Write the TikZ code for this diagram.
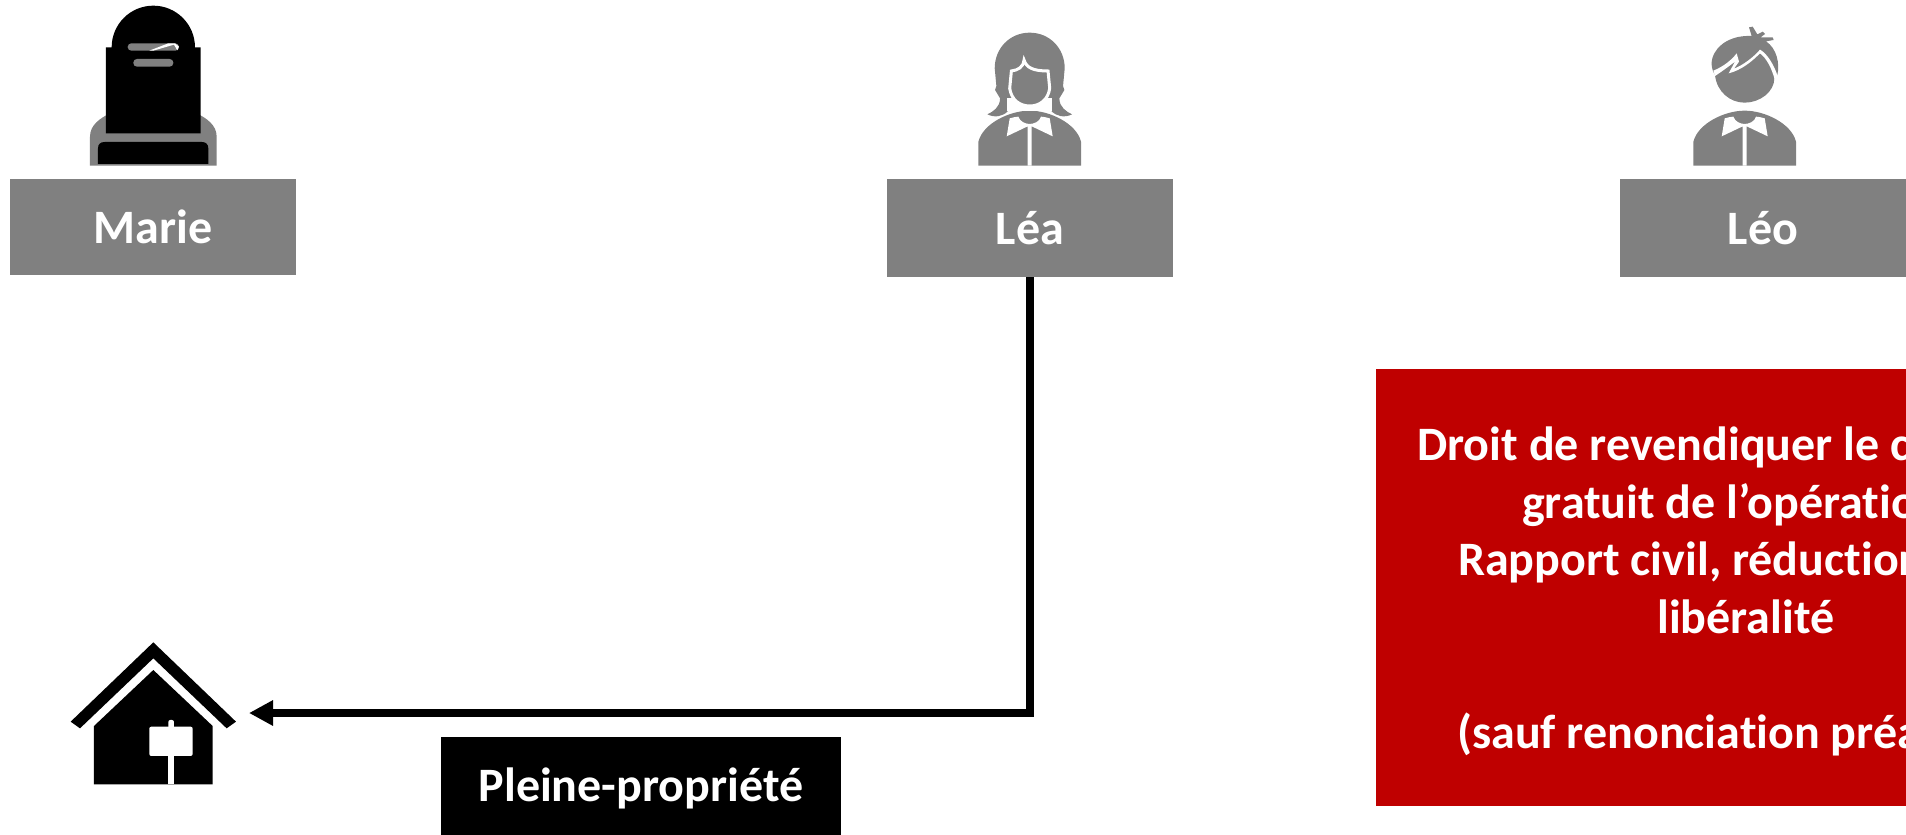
\documentclass[tikz,border=0pt]{standalone}
\usepackage{fontspec}
\setmainfont[Ligatures=NoCommon]{Carlito}
\usetikzlibrary{arrows.meta}
\definecolor{boxgray}{HTML}{808080}
\definecolor{boxred}{HTML}{BF0000}
\tikzset{
  namebox/.style={fill=boxgray,text=white,font=\bfseries\fontsize{48}{58}\selectfont,minimum width=286pt,minimum height=98pt,inner sep=0pt,text height=36pt,text depth=4pt},
  linetxt/.style={anchor=base west,inner sep=0pt,text=white,font=\bfseries\fontsize{48}{58}\selectfont},
  zoomed/.style={x=0.3333pt,y=-0.3333pt}
}
\begin{document}
\begin{tikzpicture}[x=1pt,y=-1pt,>=stealth]
  \useasboundingbox (0,0) rectangle (1906,835);

  % 1. the three name boxes
  \node[namebox,minimum height=96pt] (marie) at (153,227) {Marie};
  \node[namebox] (lea) at (1030,228) {Léa};
  \node[namebox] (leo) at (1763,228) {Léo};

  % 2. Marie: tombstone
  \begin{scope}[shift={(60,0)},zoomed]
    \fill[boxgray] (90,497) -- (90,410) .. controls (90,375) and (120,355) .. (150,340) -- (410,340) .. controls (440,355) and (470,375) .. (470,410) -- (470,497) -- cycle;
    \fill[black] (114,492) -- (114,445) .. controls (114,432) and (122,426) .. (134,426) -- (425,426) .. controls (437,426) and (445,432) .. (445,445) -- (445,492) -- cycle;
    \fill[black] (155,142) arc[start angle=180,end angle=360,radius=125] -- (422,142) -- (422,400) -- (138,400) -- (138,142) -- cycle;
    \fill[boxgray,rounded corners=3.6pt] (203,130) rectangle (357,152);
    \fill[boxgray,rounded corners=3.6pt] (220,177) rectangle (340,200);
    \fill[white] (268,152) -- (325,130) -- (345,130) -- (357,140) -- (352,151) -- (342,134) -- (280,152) -- cycle;
  \end{scope}

  % 3. bodies of Léa and Léo
  \foreach \cx in {1029.7,1744.7}
  {
    \begin{scope}[shift={(\cx,20)},zoomed]
      \fill[boxgray] (-154,437) -- (-154,365) .. controls (-140,310) and (-60,272) .. (0,272) .. controls (60,272) and (140,310) .. (154,365) -- (154,437) -- cycle;
      \fill[white] (-60,295) .. controls (-50,292) and (-40,290) .. (-34,290) .. controls (-30,305) and (-12,312) .. (0,312) .. controls (12,312) and (30,305) .. (34,290) .. controls (40,290) and (50,292) .. (60,295) -- (69,349) -- (6,319) -- (6,437) -- (-6,437) -- (-6,319) -- (-69,349) -- cycle;
    \end{scope}
  }

  % 4. Léa: hair and face
  \begin{scope}[shift={(1029.7,20)},zoomed]
    \fill[boxgray] (0,38) .. controls (-60,38) and (-105,85) .. (-105,145) -- (-100,198) -- (-104,210) -- (-89,235) .. controls (-89,262) and (-110,275) .. (-127,283) .. controls (-105,294) and (-80,290) .. (-64,272) -- (64,272) .. controls (80,290) and (105,294) .. (127,283) .. controls (110,275) and (89,262) .. (89,235) -- (104,210) -- (100,198) -- (105,145) .. controls (105,85) and (60,38) .. (0,38) -- cycle;
    \fill[white] (-68,235) rectangle (68,274);
    \fill[boxgray,draw=white,line width=3pt] (-55,153) .. controls (-35,150) and (-20,143) .. (-17,120) .. controls (-10,143) and (10,153) .. (55,153) -- (60,205) .. controls (55,240) and (30,258) .. (0,258) .. controls (-30,258) and (-55,240) .. (-60,205) -- cycle;
  \end{scope}

  % 5. Léo: hair and face
  \begin{scope}[shift={(1670,20)},zoomed]
    \fill[boxgray] (135,165) .. controls (125,150) and (122,130) .. (127,115) .. controls (140,70) and (190,45) .. (245,48) -- (237,22) -- (248,20) -- (262,43) -- (278,35) -- (285,42) -- (272,52) -- (308,52) -- (311,60) -- (288,64) .. controls (320,85) and (330,130) .. (322,165) -- (313,175) .. controls (313,215) and (270,248) .. (224,248) .. controls (180,248) and (140,215) .. (135,165) -- cycle;
    \fill[white] (130,152) .. controls (160,140) and (185,120) .. (200,100) -- (207,125) -- (192,146) .. controls (220,135) and (250,112) .. (270,89) .. controls (290,100) and (310,130) .. (323,168) -- (314,178) .. controls (305,145) and (290,115) .. (270,100) .. controls (245,125) and (215,150) .. (176,160) -- (195,125) .. controls (175,140) and (155,155) .. (135,168) -- cycle;
  \end{scope}

  % 6. house
  \begin{scope}[shift={(50,620)},zoomed]
    \fill[black] (310,67) -- (558,305) -- (530,325) -- (310,115) -- (90,325) -- (62,305) -- cycle;
    \fill[black] (310,150) -- (488,318) -- (488,493) -- (132,493) -- (132,318) -- cycle;
    \fill[white,rounded corners=2pt] (298,320) rectangle (428,408);
    \fill[white,rounded corners=2pt] (355,300) rectangle (372,340);
    \fill[white] (355,400) rectangle (372,493);
  \end{scope}

  % 7. connector and its label
  \coordinate (houseport) at (249,713);
  \draw[line width=7.5pt,-{Triangle[length=24pt,width=24pt]}] (lea.south) |- (houseport);
  \node[fill=black,text=white,font=\bfseries\fontsize{48}{58}\selectfont,minimum width=400pt,minimum height=98pt,inner sep=0pt,text height=39pt,text depth=8pt] (pp) at (641,786) {Pleine-propriété};

  % 8. red box, cut by the page
  \node[fill=boxred,minimum width=530pt,minimum height=437pt,inner sep=0pt] (redbox) at (1641,587.5) {};
  \node[linetxt] (ligne1) at (1417,460) {Droit de revendiquer le c};
  \node[linetxt] (ligne2) at (1522,518) {gratuit de l’opératio};
  \node[linetxt] (ligne3) at (1458,575.7) {Rapport civil, réduction};
  \node[linetxt] (ligne4) at (1657,633.4) {libéralité};
  \node[linetxt] (ligne5) at (1457,748.4) {(sauf renonciation préa};
\end{tikzpicture}
\end{document}
